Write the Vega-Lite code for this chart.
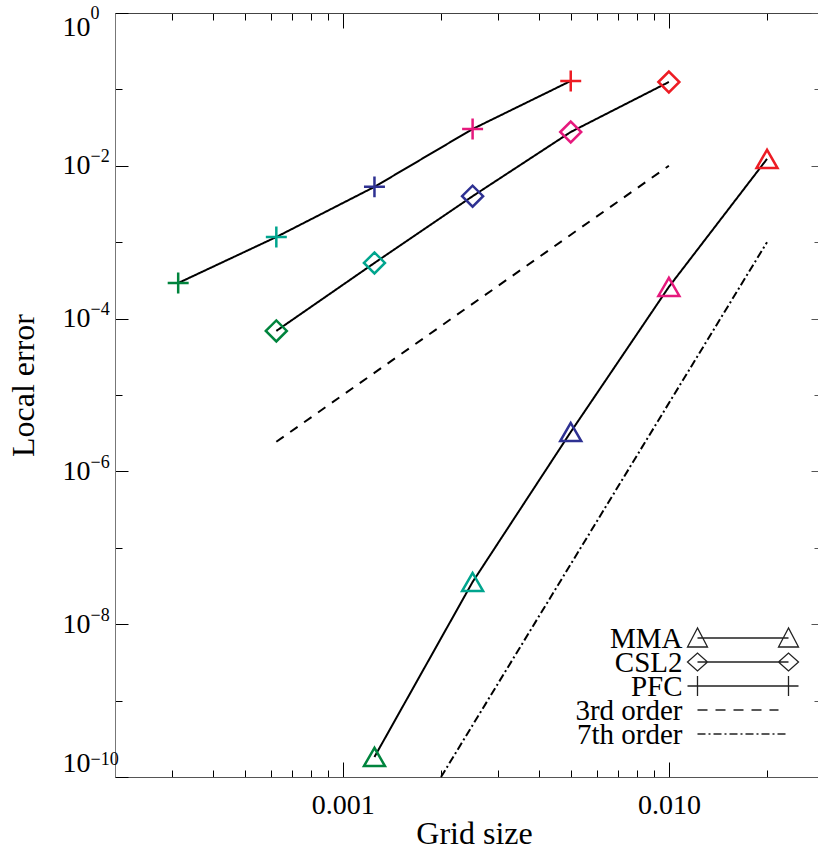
{
  "$schema": "https://vega.github.io/schema/vega-lite/v6.json",
  "autosize": {"type": "none"},
  "padding": {"left": 115, "top": 13, "right": 0, "bottom": 74},
  "width": 703,
  "height": 764,
  "background": "white",
  "config": {"view": {"stroke": null}, "font": "Liberation Serif", "axis": {"grid": false}},
  "data": {"values": [
    {"series": "PFC", "level": "L5", "x": 0.0003125, "y": 2.92e-4},
    {"series": "PFC", "level": "L4", "x": 0.000625, "y": 1.17e-3},
    {"series": "PFC", "level": "L3", "x": 0.00125, "y": 5.3e-3},
    {"series": "PFC", "level": "L2", "x": 0.0025, "y": 3.03e-2},
    {"series": "PFC", "level": "L1", "x": 0.005, "y": 0.129},
    {"series": "CSL2", "level": "L5", "x": 0.000625, "y": 6.9e-5},
    {"series": "CSL2", "level": "L4", "x": 0.00125, "y": 5.35e-4},
    {"series": "CSL2", "level": "L3", "x": 0.0025, "y": 4.0e-3},
    {"series": "CSL2", "level": "L2", "x": 0.005, "y": 2.77e-2},
    {"series": "CSL2", "level": "L1", "x": 0.01, "y": 0.125},
    {"series": "MMA", "level": "L5", "x": 0.00125, "y": 1.83e-10},
    {"series": "MMA", "level": "L4", "x": 0.0025, "y": 3.57e-8},
    {"series": "MMA", "level": "L3", "x": 0.005, "y": 3.28e-6},
    {"series": "MMA", "level": "L2", "x": 0.01, "y": 2.6e-4},
    {"series": "MMA", "level": "L1", "x": 0.02, "y": 1.23e-2},
    {"series": "3rd order", "level": null, "x": 0.000625, "y": 2.44e-6},
    {"series": "3rd order", "level": null, "x": 0.01, "y": 0.01},
    {"series": "7th order", "level": null, "x": 0.002, "y": 1e-10},
    {"series": "7th order", "level": null, "x": 0.02, "y": 1e-3}
  ]},
  "resolve": {"axis": {"x": "independent", "y": "independent"}, "scale": {"shape": "independent"}},
  "layer": [
    {
      "mark": {"type": "line", "color": "black", "strokeWidth": 2},
      "encoding": {
        "x": {"field": "x", "type": "quantitative",
          "scale": {"type": "log", "domain": [0.0002, 0.02867], "nice": false},
          "axis": {"orient": "bottom", "title": "Grid size",
            "values": [0.0002,0.0003,0.0004,0.0005,0.0006,0.0007,0.0008,0.0009,0.001,0.002,0.003,0.004,0.005,0.006,0.007,0.008,0.009,0.01,0.02],
            "labelExpr": "(datum.value === 0.001 || datum.value === 0.01) ? format(datum.value, '.3f') : ''",
            "tickSize": {"condition": {"test": "datum.value === 0.001 || datum.value === 0.01", "value": -15}, "value": -7},
            "tickColor": "black", "tickWidth": 1, "domainColor": "#555", "domainWidth": 1,
            "labelFont": "Liberation Serif", "labelFontSize": 28, "labelColor": "black",
            "labelBaseline": "alphabetic", "labelPadding": 51, "labelOverlap": false,
            "titleFont": "Liberation Serif", "titleFontSize": 32, "titleFontWeight": "normal", "titleColor": "black",
            "titleX": 359, "titleY": 66, "titleBaseline": "alphabetic", "titleAlign": "center"}},
        "y": {"field": "y", "type": "quantitative",
          "scale": {"type": "log", "domain": [1e-10, 1], "nice": false},
          "axis": {"orient": "left", "title": "Local error",
            "values": [1, 0.1, 0.01, 0.001, 0.0001, 1e-5, 1e-6, 1e-7, 1e-8, 1e-9, 1e-10],
            "labelExpr": "(round(log(datum.value)/LN10) % 2 !== 0) ? '' : '10'",
            "tickSize": {"condition": {"test": "round(log(datum.value)/LN10) % 2 === 0", "value": -13}, "value": -7},
            "tickColor": "black", "tickWidth": 1, "domainColor": "#777", "domainWidth": 1,
            "labelFont": "Liberation Serif", "labelFontSize": 28, "labelColor": "black",
            "labelAlign": "right", "labelPadding": 38, "labelFlush": true, "labelOverlap": false,
            "titleFont": "Liberation Serif", "titleFontSize": 32, "titleFontWeight": "normal", "titleColor": "black",
            "titleX": -82, "titleY": 372, "titleAngle": -90, "titleBaseline": "alphabetic", "titleAlign": "center"}},
        "detail": {"field": "series"},
        "strokeDash": {"field": "series", "type": "nominal",
          "scale": {"domain": ["MMA", "CSL2", "PFC", "3rd order", "7th order"], "range": [[1,0],[1,0],[1,0],[9,8],[8,3,2,3]]},
          "legend": null}
      }
    },
    {
      "transform": [{"filter": "datum.level != null"}],
      "mark": {"type": "point", "filled": false, "strokeWidth": 2.5, "size": 440, "opacity": 1},
      "encoding": {
        "x": {"field": "x", "type": "quantitative",
          "axis": {"orient": "top", "title": null, "labels": false,
            "values": [0.0002,0.0003,0.0004,0.0005,0.0006,0.0007,0.0008,0.0009,0.001,0.002,0.003,0.004,0.005,0.006,0.007,0.008,0.009,0.01,0.02],
            "tickSize": {"condition": {"test": "datum.value === 0.001 || datum.value === 0.01", "value": -15}, "value": -7},
            "tickColor": "black", "tickWidth": 1, "domainColor": "#444", "domainWidth": 1}},
        "y": {"field": "y", "type": "quantitative",
          "axis": {"orient": "right", "title": null, "labels": false, "domain": false,
            "values": [1, 0.1, 0.01, 0.001, 0.0001, 1e-5, 1e-6, 1e-7, 1e-8, 1e-9, 1e-10],
            "tickSize": {"condition": {"test": "round(log(datum.value)/LN10) % 2 === 0", "value": -7}, "value": -4},
            "tickColor": "#555", "tickWidth": 1}},
        "shape": {"field": "series", "type": "nominal",
          "scale": {"domain": ["MMA", "CSL2", "PFC"], "range": ["triangle-up", "diamond", "M-1,0H1M0,-1V1"]},
          "legend": null},
        "color": {"field": "level", "type": "nominal",
          "scale": {"domain": ["L1", "L2", "L3", "L4", "L5"], "range": ["#ed1c24", "#e6197d", "#2e3192", "#00a58e", "#00843d"]},
          "legend": null}
      }
    },
    {
      "transform": [{"filter": "false"}],
      "mark": {"type": "point", "filled": false},
      "encoding": {
        "y": {"field": "y", "type": "quantitative",
          "axis": {"orient": "left", "title": null, "ticks": false, "domain": false,
            "values": [1, 0.01, 0.0001, 1e-6, 1e-8, 1e-10],
            "labelExpr": "format(round(log(datum.value)/LN10), 'd')",
            "labelFont": "Liberation Serif", "labelFontSize": 18, "labelColor": "black",
            "labelAlign": "left", "labelPadding": 25, "labelOffset": -9, "labelFlush": true, "labelOverlap": false}},
        "shape": {"field": "series", "type": "nominal",
          "scale": {"domain": ["MMA", "CSL2", "PFC", "3rd order", "7th order"],
            "range": [
              "M0,-10H91M0,-20L-10,-1L10,-1ZM91,-20L81,-1L101,-1Z",
              "M0,-10H91M-10,-10L0,-19L10,-10L0,-1ZM81,-10L91,-19L101,-10L91,-1Z",
              "M0,-10H91M-10,-10H10M0,-20V0M81,-10H101M91,-20V0",
              "M0,-10H10M18,-10H28M36,-10H46M54,-10H64M72,-10H81",
              "M0,-10H8M11,-10H13M16,-10H24M27,-10H29M32,-10H40M43,-10H45M48,-10H56M59,-10H61M64,-10H72M75,-10H77M80,-10H88"
            ]},
          "legend": {"orient": "none", "legendX": 568, "legendY": 620.5, "title": null, "padding": 0,
            "labelFont": "Liberation Serif", "labelFontSize": 29, "labelColor": "black",
            "labelAlign": "right", "labelBaseline": "alphabetic", "labelOffset": -29.5, "labelLimit": 0,
            "symbolSize": 4, "symbolStrokeColor": "#222", "symbolStrokeWidth": 1.3,
            "symbolFillColor": "transparent", "symbolOpacity": 1, "symbolOffset": 0, "rowPadding": -6}}
      }
    }
  ]
}
